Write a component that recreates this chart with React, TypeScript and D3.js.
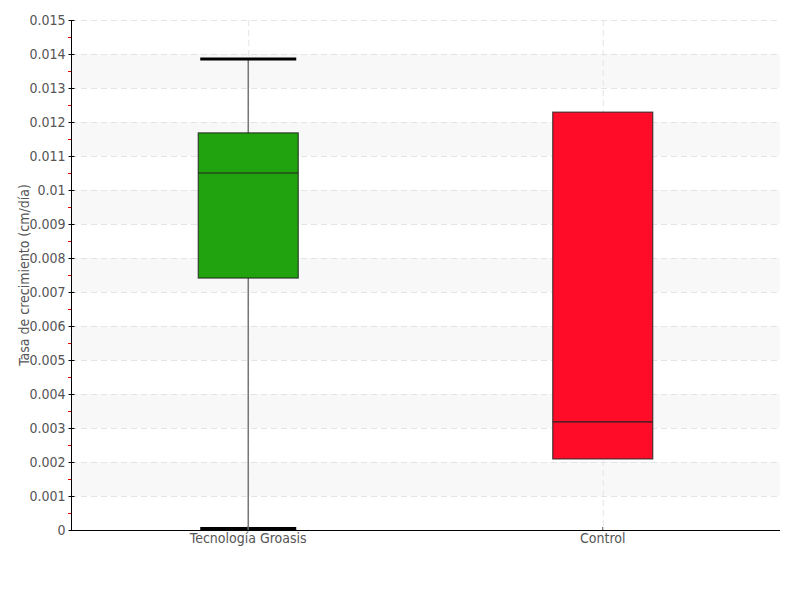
import React, {useEffect, useRef} from 'react'
import * as d3 from 'd3';

const categories = ['Tecnología Groasis', 'Control'];
const lows = [0.0, 0.0021];
const q1s = [0.00741, 0.00209];
const medians = [0.0105, 0.00318];
const q3s = [0.01168, 0.01229];
const highs = [0.01385, 0.01229];
const fills = ['#21a30f', '#ff0d28'];
const yTicks = d3.range(0, 0.0151, 0.001);
const yLabel = 'Tasa de crecimiento (cm/día)';

export default function App(){
    const svgRef = useRef<SVGSVGElement>(null);

    const W = 800, H = 600;
    const margin = {top: 20, right: 20, left: 71, bottom: 70};
    const width = W - margin.left - margin.right;
    const height = H - margin.top - margin.bottom;
    const font = '"DejaVu Sans Condensed", "DejaVu Sans", sans-serif';

    useEffect(() => {
        const svg = d3.select(svgRef.current);
        svg.selectAll('*').remove();

        const data = categories.map((c, i) => ({
            name: c, low: lows[i], q1: q1s[i], med: medians[i], q3: q3s[i], high: highs[i], fill: fills[i]
        }));

        const y = d3.scaleLinear().domain([0, 0.015]).range([height, 0]);
        const x = d3.scaleBand().domain(categories).range([0, width]);
        const cx = (d: string) => (x(d) as number) + x.bandwidth() / 2;
        const boxW = 100, capW = 96;

        const g = svg.append('g').attr('transform', `translate(${margin.left},${margin.top})`);

        // alternating bands
        g.append('g').selectAll('rect')
            .data(d3.range(1, 15, 2))
            .join('rect')
            .attr('x', 0)
            .attr('width', width)
            .attr('y', d => y((d + 1) * 0.001))
            .attr('height', d => y(d * 0.001) - y((d + 1) * 0.001))
            .attr('fill', '#f8f8f8');

        // grid
        g.append('g').selectAll('line')
            .data(yTicks.slice(1))
            .join('line')
            .attr('x1', 0).attr('x2', width)
            .attr('y1', d => Math.round(y(d)) + 0.5).attr('y2', d => Math.round(y(d)) + 0.5)
            .attr('stroke', '#e4e4e4').attr('stroke-dasharray', '6,4');
        g.append('g').selectAll('line')
            .data(categories)
            .join('line')
            .attr('x1', d => cx(d) + 0.5).attr('x2', d => cx(d) + 0.5)
            .attr('y1', 0).attr('y2', height)
            .attr('stroke', '#e4e4e4').attr('stroke-dasharray', '6,4');

        // boxes
        const box = g.append('g').selectAll('g').data(data).join('g');
        box.filter(d => d.high > d.q3)
            .append('line')
            .attr('x1', d => cx(d.name)).attr('x2', d => cx(d.name))
            .attr('y1', d => y(d.high)).attr('y2', d => y(d.q3))
            .attr('stroke', '#777').attr('stroke-width', 1.5);
        box.filter(d => d.low < d.q1)
            .append('line')
            .attr('x1', d => cx(d.name)).attr('x2', d => cx(d.name))
            .attr('y1', d => y(d.q1)).attr('y2', d => y(d.low))
            .attr('stroke', '#777').attr('stroke-width', 1.5);
        box.filter(d => d.high > d.q3)
            .append('line')
            .attr('x1', d => cx(d.name) - capW / 2).attr('x2', d => cx(d.name) + capW / 2)
            .attr('y1', d => y(d.high)).attr('y2', d => y(d.high))
            .attr('stroke', '#000').attr('stroke-width', 3);
        box.filter(d => d.low < d.q1)
            .append('line')
            .attr('x1', d => cx(d.name) - capW / 2).attr('x2', d => cx(d.name) + capW / 2)
            .attr('y1', d => y(d.low) - 1.5).attr('y2', d => y(d.low) - 1.5)
            .attr('stroke', '#000').attr('stroke-width', 3);
        box.append('rect')
            .attr('x', d => cx(d.name) - boxW / 2)
            .attr('width', boxW)
            .attr('y', d => y(d.q3))
            .attr('height', d => y(d.q1) - y(d.q3))
            .attr('fill', d => d.fill)
            .attr('stroke', '#222').attr('stroke-opacity', 0.8).attr('stroke-width', 1.2);
        box.append('line')
            .attr('x1', d => cx(d.name) - boxW / 2).attr('x2', d => cx(d.name) + boxW / 2)
            .attr('y1', d => y(d.med)).attr('y2', d => y(d.med))
            .attr('stroke', '#222').attr('stroke-width', 1.2);
        // lower whisker line shows over the bottom cap
        box.filter(d => d.low < d.q1)
            .append('line')
            .attr('x1', d => cx(d.name)).attr('x2', d => cx(d.name))
            .attr('y1', d => y(d.low) - 4).attr('y2', d => y(d.low))
            .attr('stroke', '#777').attr('stroke-width', 1.5);

        // minor ticks (red)
        g.append('g').selectAll('line')
            .data(d3.range(0.0005, 0.015, 0.001))
            .join('line')
            .attr('x1', -3).attr('x2', 0)
            .attr('y1', d => Math.round(y(d)) + 0.5).attr('y2', d => Math.round(y(d)) + 0.5)
            .attr('stroke', '#d00');

        // y axis
        const yAxis = d3.axisLeft(y).tickValues(yTicks).tickSize(3).tickPadding(3)
            .tickFormat(d => d3.format('~g')(+(+d).toFixed(3)));
        const ya = g.append('g').attr('transform', 'translate(0.5,0)').call(yAxis);
        ya.select('.domain').attr('stroke', '#000').attr('d', `M0,0V${height}`);
        ya.selectAll('.tick line').attr('stroke', '#000').attr('x2', 3).attr('x1', -3);
        ya.selectAll('.tick text').attr('fill', '#555').attr('font-size', 14).attr('font-family', font);

        // x axis
        const xAxis = d3.axisBottom(x).tickSize(0).tickPadding(3);
        const xa = g.append('g').attr('transform', `translate(0,${height})`).call(xAxis);
        xa.select('.domain').attr('stroke', '#000').attr('d', `M0,0.5H${width}`);
        xa.selectAll('.tick text').attr('fill', '#555').attr('font-size', 14).attr('font-family', font);
        xa.selectAll('.tick').append('line').attr('y1', -3).attr('y2', 0).attr('stroke', '#555');

        svg.append('text')
            .attr('transform', `translate(${margin.left - 42},${margin.top + height / 2}) rotate(-90)`)
            .attr('text-anchor', 'middle')
            .attr('fill', '#555')
            .attr('font-size', 14)
            .attr('font-family', font)
            .text(yLabel);
    });

    return (
        <svg ref={svgRef} width={W} height={H}
            style={{position: 'absolute', left: 0, top: 0, background: '#fff'}}>
        </svg>
    );
}
